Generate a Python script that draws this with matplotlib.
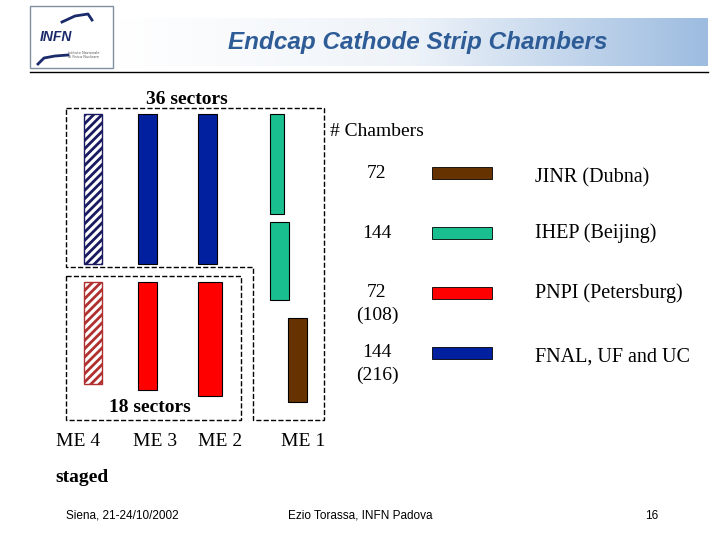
import matplotlib.pyplot as plt
import numpy as np
from matplotlib.patches import Rectangle, Polygon
from matplotlib.colors import LinearSegmentedColormap

plt.rcParams["hatch.linewidth"] = 2

# legend data
counts = ["72", "144", "72\n(108)", "144\n(216)"]
institutes = ["JINR (Dubna)", "IHEP (Beijing)", "PNPI (Petersburg)", "FNAL, UF and UC"]
colors = ["#663300", "#1ABF8F", "#FF0000", "#00209F"]
stations = ["ME 4", "ME 3", "ME 2", "ME 1"]

fig = plt.figure(figsize=(7.2, 5.4), dpi=100)
ax = fig.add_axes([0, 0, 1, 1])
ax.set_xlim(0, 720)
ax.set_ylim(540, 0)
ax.axis("off")
serif = "Liberation Serif"
sans = "Liberation Sans"

# header
grad = np.linspace(0, 1, 256).reshape(1, -1)
cm = LinearSegmentedColormap.from_list("h", ["#FFFFFF", "#EEF3F9", "#9DBCE0"])
ax.imshow(grad, extent=[118, 708, 66, 18], cmap=cm, aspect="auto", zorder=0)
ax.add_patch(Rectangle((30, 6), 83, 62, fill=False, ec="#8090A0", lw=1))
ax.text(40, 37, "INFN", fontsize=10, fontweight="bold", style="italic", color="#1A2A6A",
        va="center", family=sans)
ax.text(68, 55, "Istituto Nazionale\ndi Fisica Nucleare", fontsize=2.5, color="#555555", va="center")
ax.plot([38, 44, 55, 68], [64, 58, 56, 55], color="#1A2A6A", lw=2)
ax.plot([62, 75, 88, 92], [22, 16, 14, 20], color="#1A2A6A", lw=2)
ax.text(418, 42, "Endcap Cathode Strip Chambers", fontsize=17.5, fontweight="bold",
        style="italic", color="#2E5C97", ha="center", va="center", family=sans)
ax.plot([30, 708], [72, 72], color="black", lw=1)

# dashed boxes
ax.add_patch(Polygon([(66, 108), (324, 108), (324, 420), (253, 420), (253, 267), (66, 267)],
                     closed=True, fill=False, ls="--", lw=1, ec="black"))
ax.add_patch(Rectangle((66, 276), 175, 144, fill=False, ls="--", lw=1, ec="black"))

# chambers
blue, red, green, brown = colors[3], colors[2], colors[1], colors[0]
ax.add_patch(Rectangle((84, 114), 18, 150, fc="white", ec="#1A1A60", hatch="////", lw=1))
ax.add_patch(Rectangle((138, 114), 19, 150, fc=blue, ec="black", lw=0.8))
ax.add_patch(Rectangle((198, 114), 19, 150, fc=blue, ec="black", lw=0.8))
ax.add_patch(Rectangle((270, 114), 14, 100, fc=green, ec="black", lw=0.8))
ax.add_patch(Rectangle((270, 222), 19, 78, fc=green, ec="black", lw=0.8))
ax.add_patch(Rectangle((84, 282), 18, 102, fc="white", ec="#B03030", hatch="////", lw=1))
ax.add_patch(Rectangle((138, 282), 19, 108, fc=red, ec="black", lw=0.8))
ax.add_patch(Rectangle((198, 282), 24, 114, fc=red, ec="black", lw=0.8))
ax.add_patch(Rectangle((288, 318), 19, 84, fc=brown, ec="black", lw=0.8))

ax.text(187, 100, "36 sectors", fontsize=14, fontweight="bold", family=serif, ha="center", va="center")
ax.text(150, 407, "18 sectors", fontsize=14, fontweight="bold", family=serif, ha="center", va="center")
ax.text(377, 131, "# Chambers", fontsize=14, family=serif, ha="center", va="center")
for x, s in zip([78, 155, 220, 303], stations):
    ax.text(x, 441, s, fontsize=14, family=serif, ha="center", va="center")
ax.text(82, 478, "staged", fontsize=14, fontweight="bold", family=serif, ha="center", va="center")

# legend
ys = [173, 233, 293, 353]
for y, c, col, inst in zip(ys, counts, colors, institutes):
    ax.text(377, y + (0 if "\n" not in c else 11), c, fontsize=14, family=serif,
            ha="center", va="center", linespacing=1.45)
    ax.add_patch(Rectangle((432, y - 6), 60, 12, fc=col, ec="black", lw=0.6))
    ax.text(535, y + (5 if inst.startswith("JINR") else (4 if inst.startswith("FNAL") else 0)),
            inst, fontsize=14.5, family=serif, va="center")

# footer
ax.text(122, 516, "Siena, 21-24/10/2002", fontsize=8.5, family=sans, ha="center", va="center")
ax.text(360, 516, "Ezio Torassa, INFN Padova", fontsize=8.5, family=sans, ha="center", va="center")
ax.text(652, 516, "16", fontsize=8.5, family=sans, ha="center", va="center")

fig.savefig("out.png", dpi=100)
